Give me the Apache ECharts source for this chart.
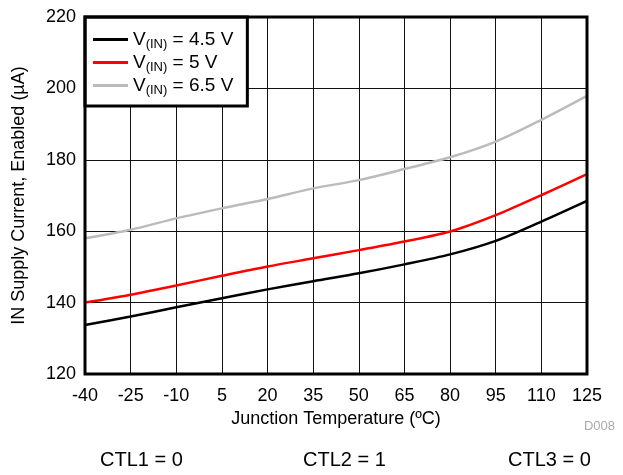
<!DOCTYPE html>
<html><head><meta charset="utf-8">
<script src="https://cdn.jsdelivr.net/npm/echarts@6/dist/echarts.min.js"></script>
<style>html,body{margin:0;padding:0;background:#fff}#c{width:623px;height:475px}</style>
</head><body><div id="c"></div>
<script>
const temps = ['-40','-25','-10','5','20','35','50','65','80','95','110','125'];
const vin45 = [133.7,136.1,138.7,141.2,143.7,146.0,148.2,150.7,153.5,157.3,162.7,168.5];
const vin5  = [140.0,142.2,144.8,147.5,150.1,152.4,154.7,157.1,159.9,164.5,170.1,176.0];
const vin65 = [158.0,160.4,163.6,166.4,169.0,172.0,174.3,177.4,180.7,185.1,191.2,197.9];
const names = ['4.5 V','5 V','6.5 V'];
const FONT = 'Liberation Sans, Arial, sans-serif';
const chart = echarts.init(document.getElementById('c'));
const mk = (i, data, color) => ({
  name: names[i], type: 'line', data, symbol: 'none', smooth: 0.3,
  lineStyle: {color, width: 2.5}, itemStyle: {color}
});
chart.setOption({
  animation: false,
  textStyle: {fontFamily: FONT},
  grid: {left: 85, right: 36, top: 17, bottom: 101, show: true, borderColor: '#000', borderWidth: 3, z: 10},
  legend: {
    left: 85, top: 17, orient: 'vertical', backgroundColor: '#fff',
    borderColor: '#000', borderWidth: 3, padding: [11, 14, 9, 8], itemGap: 0,
    itemWidth: 35, itemHeight: 3, icon: 'rect',
    data: names,
    formatter: n => '{a|V}{s|(IN)}{a| = ' + n + '}',
    textStyle: {rich: {
      a: {fontSize: 19, lineHeight: 18, color: '#000', fontFamily: FONT},
      s: {fontSize: 13, lineHeight: 18, color: '#000', fontFamily: FONT, padding: [10, 0, 0, 0]}
    }}
  },
  xAxis: {
    type: 'category', data: temps, boundaryGap: false,
    name: 'Junction Temperature (ºC)', nameLocation: 'middle', nameGap: 35,
    nameTextStyle: {fontSize: 18, color: '#000'},
    axisLine: {show: false}, axisTick: {show: false},
    axisLabel: {fontSize: 18, color: '#000', margin: 13},
    splitLine: {show: true, lineStyle: {color: '#111', width: 1}}
  },
  yAxis: {
    type: 'value', min: 120, max: 220, interval: 20,
    name: 'IN Supply Current, Enabled (µA)', nameLocation: 'middle', nameGap: 57,
    nameTextStyle: {fontSize: 18, color: '#000'},
    axisLine: {show: false}, axisTick: {show: false},
    axisLabel: {fontSize: 18, color: '#000', margin: 9},
    splitLine: {show: true, lineStyle: {color: '#111', width: 1}}
  },
  series: [mk(0, vin45, '#000'), mk(1, vin5, '#ff0000'), mk(2, vin65, '#bbbbbb')],
  graphic: [
    {type: 'text', right: 8, top: 420, style: {text: 'D008', fontSize: 13, fill: '#aaa', fontFamily: FONT}},
    {type: 'text', left: 100, top: 450, style: {text: 'CTL1 = 0', fontSize: 20, fill: '#000', fontFamily: FONT}},
    {type: 'text', left: 303, top: 450, style: {text: 'CTL2 = 1', fontSize: 20, fill: '#000', fontFamily: FONT}},
    {type: 'text', left: 508, top: 450, style: {text: 'CTL3 = 0', fontSize: 20, fill: '#000', fontFamily: FONT}}
  ]
});
</script></body></html>
